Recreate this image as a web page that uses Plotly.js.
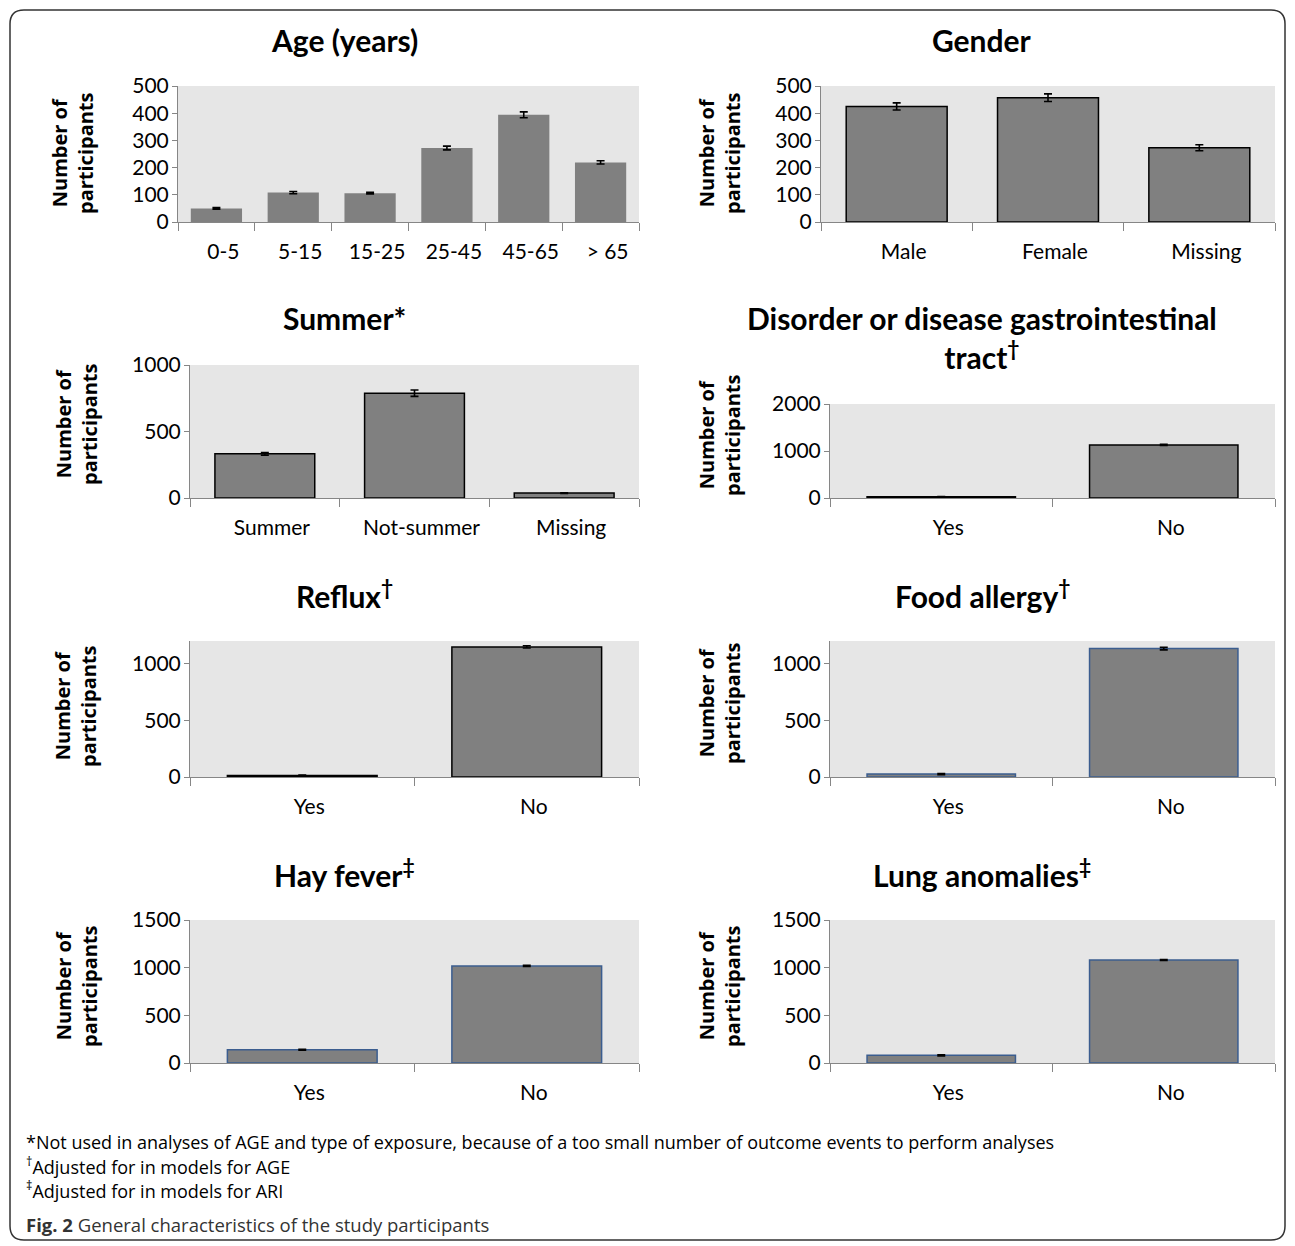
<!DOCTYPE html>
<html>
<head>
<meta charset="utf-8">
<script src="https://cdn.plot.ly/plotly-3.0.1.min.js"></script>
<style>
  html, body { margin: 0; padding: 0; background: #ffffff; }
  #chart { width: 1295px; height: 1246px; }
</style>
</head>
<body>
<div id="chart"></div>
<script>
// ---------- DATA ----------
const ageCats = ['0-5', '5-15', '15-25', '25-45', '45-65', '> 65'];
const ageVals = [50, 108, 106, 272, 394, 219];
const ageErr = [3, 4, 3, 7, 11, 6];

const genderCats = ['Male', 'Female', 'Missing'];
const genderVals = [425, 457, 273];
const genderErr = [13, 14, 11];

const summerCats = ['Summer', 'Not-summer', 'Missing'];
const summerVals = [332, 788, 37];
const summerErr = [10, 24, 3];

const yesNoCats = ['Yes', 'No'];
const gutVals = [28, 1130];
const gutErr = [4, 14];
const refluxVals = [14, 1148];
const refluxErr = [3, 10];
const foodVals = [26, 1133];
const foodErr = [5, 11];
const hayVals = [140, 1018];
const hayErr = [5, 6];
const lungVals = [80, 1080];
const lungErr = [5, 5];

const panelTitles = ['<b>Age (years)</b>', '<b>Gender</b>', '<b>Summer*</b>',
  '<b>Disorder or disease gastrointestinal</b><br><b>tract</b><sup><b>†</b></sup>',
  '<b>Reflux</b><sup><b>†</b></sup>', '<b>Food allergy</b><sup><b>†</b></sup>',
  '<b>Hay fever</b><sup><b>‡</b></sup>', '<b>Lung anomalies</b><sup><b>‡</b></sup>'];
const yAxisLabel = '<b>Number of</b><br><b>participants</b>';
const footnotes = [
  '*Not used in analyses of AGE and type of exposure, because of a too small number of outcome events to perform analyses',
  '<sup>†</sup>Adjusted for in models for AGE',
  '<sup>‡</sup>Adjusted for in models for ARI'
];
const captionBold = 'Fig. 2';
const captionText = ' General characteristics of the study participants';

// ---------- LAYOUT HELPERS ----------
const W = 1295, H = 1246;
const px = x => x / W;
const py = y => 1 - y / H;
const FONT = 'Lato, "Open Sans", sans-serif';
const NOTEFONT = '"Open Sans", Lato, sans-serif';
const YLFONT = '"Open Sans", "Noto Sans", sans-serif';
const BLACK = '#000000', BLUE = '#3b5d8f';

const panels = [
  {cats: ageCats, vals: ageVals, err: ageErr, ymax: 500, dtick: 100, outline: 'rgba(0,0,0,0)', box: [178, 639, 86, 222], t: [344, 40], yl: [72, 153]},
  {cats: genderCats, vals: genderVals, err: genderErr, ymax: 500, dtick: 100, outline: BLACK, box: [821, 1275, 86, 222], t: [982, 40], yl: [719, 153]},
  {cats: summerCats, vals: summerVals, err: summerErr, ymax: 1000, dtick: 500, outline: BLACK, box: [190, 639, 365, 498], t: [344, 318], yl: [76, 424]},
  {cats: yesNoCats, vals: gutVals, err: gutErr, ymax: 2000, dtick: 1000, outline: BLACK, box: [830, 1275, 404, 498], t: [982, 337], yl: [719, 435]},
  {cats: yesNoCats, vals: refluxVals, err: refluxErr, ymax: 1200, dtick: 500, outline: BLACK, box: [190, 639, 641, 777], t: [344, 594], yl: [75, 706]},
  {cats: yesNoCats, vals: foodVals, err: foodErr, ymax: 1200, dtick: 500, outline: BLUE, box: [830, 1275, 641, 777], t: [982, 594], yl: [719, 703]},
  {cats: yesNoCats, vals: hayVals, err: hayErr, ymax: 1500, dtick: 500, outline: BLUE, box: [190, 639, 920, 1063], t: [344, 873], yl: [76, 986]},
  {cats: yesNoCats, vals: lungVals, err: lungErr, ymax: 1500, dtick: 500, outline: BLUE, box: [830, 1275, 920, 1063], t: [982, 873], yl: [719, 986]}
];

const data = [];
const layout = {
  width: W, height: H,
  margin: {l: 0, r: 0, t: 0, b: 0},
  paper_bgcolor: '#ffffff',
  plot_bgcolor: '#e6e6e6',
  showlegend: false,
  font: {family: FONT, color: '#000000', size: 21},
  annotations: [],
  shapes: []
};

panels.forEach((p, i) => {
  const n = i + 1;
  const xa = n === 1 ? 'x' : 'x' + n;
  const ya = n === 1 ? 'y' : 'y' + n;
  data.push({
    type: 'bar', x: p.cats, y: p.vals,
    xaxis: xa, yaxis: ya, width: 0.667,
    marker: {color: '#808080', line: {color: p.outline, width: 1.5}},
    error_y: {type: 'data', array: p.err, visible: true, color: '#000000', thickness: 1.6, width: 4},
    hoverinfo: 'x+y'
  });
  const xkey = n === 1 ? 'xaxis' : 'xaxis' + n;
  const ykey = n === 1 ? 'yaxis' : 'yaxis' + n;
  layout[xkey] = {
    domain: [px(p.box[0]), px(p.box[1])],
    anchor: ya, type: 'category',
    range: [-0.5, p.cats.length - 0.5],
    showline: true, linecolor: '#868686', linewidth: 1,
    ticks: 'outside', tickson: 'boundaries', ticklen: 8, tickcolor: '#868686', tickwidth: 1,
    ticklabelstandoff: 11, ticklabelshift: 7,
    tickfont: {family: FONT, size: 21, color: '#000000'},
    showgrid: false, zeroline: false, fixedrange: true
  };
  layout[ykey] = {
    domain: [py(p.box[3]), py(p.box[2])],
    anchor: xa,
    range: [0, p.ymax], dtick: p.dtick, tick0: 0,
    showline: true, linecolor: '#868686', linewidth: 1,
    ticks: 'outside', ticklen: 5, tickcolor: '#868686', tickwidth: 1,
    ticklabelstandoff: -1,
    tickfont: {family: FONT, size: 21, color: '#000000'},
    showgrid: false, zeroline: false, fixedrange: true
  };
  layout.annotations.push({
    xref: 'paper', yref: 'paper', x: px(p.t[0]), y: py(p.t[1]),
    xanchor: 'center', yanchor: 'middle', showarrow: false,
    text: panelTitles[i],
    font: {family: FONT, size: 30, color: '#000000', weight: 700}
  });
  layout.annotations.push({
    xref: 'paper', yref: 'paper', x: px(p.yl[0]), y: py(p.yl[1]),
    xanchor: 'center', yanchor: 'middle', showarrow: false, textangle: -90,
    text: yAxisLabel,
    font: {family: YLFONT, size: 20, color: '#000000', weight: 700}
  });
});

// footnotes and caption
const fnY = [1142, 1166, 1190];
footnotes.forEach((t, i) => {
  layout.annotations.push({
    xref: 'paper', yref: 'paper', x: px(24), y: py(fnY[i]),
    xanchor: 'left', yanchor: 'middle', showarrow: false,
    text: t, font: {family: NOTEFONT, size: 18, color: '#000000'}
  });
});
layout.annotations.push({
  xref: 'paper', yref: 'paper', x: px(24), y: py(1224),
  xanchor: 'left', yanchor: 'middle', showarrow: false,
  text: '<b>' + captionBold + '</b>' + captionText,
  font: {family: NOTEFONT, size: 18.5, color: '#333333'}
});

// rounded outer frame
(function () {
  const x0 = 10, x1 = 1285, y0 = 10, y1 = 1240, r = 14;
  const P = (x, y) => px(x) + ',' + py(y);
  const path = 'M ' + P(x0 + r, y0) + ' L ' + P(x1 - r, y0) +
    ' Q ' + P(x1, y0) + ' ' + P(x1, y0 + r) +
    ' L ' + P(x1, y1 - r) + ' Q ' + P(x1, y1) + ' ' + P(x1 - r, y1) +
    ' L ' + P(x0 + r, y1) + ' Q ' + P(x0, y1) + ' ' + P(x0, y1 - r) +
    ' L ' + P(x0, y0 + r) + ' Q ' + P(x0, y0) + ' ' + P(x0 + r, y0) + ' Z';
  layout.shapes.push({type: 'path', xref: 'paper', yref: 'paper', path: path,
    line: {color: '#333333', width: 1.5}, fillcolor: 'rgba(0,0,0,0)', layer: 'below'});
})();

Plotly.newPlot('chart', data, layout, {displayModeBar: false, staticPlot: true});
</script>
</body>
</html>
